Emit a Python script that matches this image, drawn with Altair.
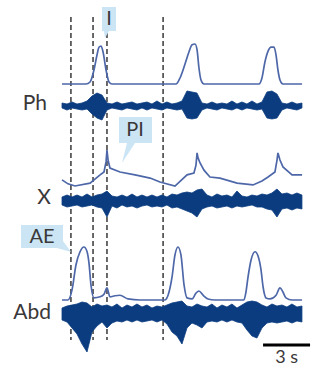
import altair as alt
import pandas as pd

W, H = 321, 371
PX_PER_S = 47 / 3.0          # 3 s scale bar is ~47 px long
X_DOMAIN = [-3.957, 16.528]  # seconds across the full picture width

INT_COL = "#4d67a8"
RAW_COL = "#0b3c80"
BOX_COL = "#cbe5f5"
TXT_COL = "#3a3838"
FONT = "Lato"

# ---------------- integrated traces (time s, amplitude a.u.) ----------------
ph_int_t = [0.00, 1.53, 1.79, 2.04, 2.23, 2.36, 2.49, 2.62, 2.81, 3.00, 3.19,
            7.28, 7.53, 7.85, 8.10, 8.30, 8.49, 8.62, 8.74, 8.87, 9.06,
            12.57, 12.76, 12.95, 13.15, 13.34, 13.53, 13.66, 13.78, 13.91, 14.10, 15.32]
ph_int_v = [0, 0, 0.05, 0.35, 0.72, 0.92, 0.95, 0.80, 0.35, 0.05, 0,
            0, 0.15, 0.50, 0.80, 0.98, 1.00, 0.85, 0.40, 0.10, 0,
            0, 0.15, 0.55, 0.82, 0.92, 0.92, 0.72, 0.35, 0.10, 0, 0]

x_int_t = [0.00, 0.38, 0.83, 1.79, 2.43, 2.68, 2.81, 2.87, 2.94, 3.06,
           3.70, 4.66, 5.62, 6.25, 7.21, 7.98, 8.42, 8.55, 8.62, 8.68,
           8.81, 9.06, 9.44, 10.08, 11.17, 12.19, 12.76, 13.15, 13.59, 13.72,
           13.78, 13.91, 14.10, 14.68, 15.32]
x_int_v = [0.17, 0.06, 0.00, 0.08, 0.31, 0.39, 0.67, 1.00, 0.72, 0.50,
           0.39, 0.31, 0.22, 0.11, 0.00, 0.31, 0.36, 0.58, 0.92, 0.78,
           0.64, 0.44, 0.25, 0.22, 0.08, 0.03, 0.14, 0.25, 0.39, 0.72,
           0.92, 0.72, 0.53, 0.31, 0.31]

abd_int_t = [0.00, 0.38, 0.64, 0.89, 1.15, 1.40, 1.60, 1.72, 1.85, 2.04,
             2.43, 2.68, 2.87, 3.06, 3.38, 3.70, 4.21, 4.98, 6.57, 6.83,
             7.02, 7.21, 7.40, 7.59, 7.79, 7.98, 8.30, 8.55, 8.74, 9.00,
             9.32, 9.76, 11.61, 11.74, 11.87, 12.06, 12.32, 12.51, 12.70, 12.83,
             13.02, 13.27, 13.66, 13.91, 14.10, 14.29, 14.68, 15.32]
abd_int_v = [0, 0, 0.19, 0.66, 0.91, 1.00, 0.91, 0.70, 0.28, 0.04,
             0.06, 0.11, 0.23, 0.06, 0.08, 0.09, 0.02, 0, 0, 0.15,
             0.43, 0.85, 1.00, 0.85, 0.28, 0.04, 0.02, 0.13, 0.17, 0.09,
             0.02, 0, 0, 0.15, 0.43, 0.75, 0.91, 0.83, 0.57, 0.25,
             0.04, 0.02, 0.09, 0.23, 0.15, 0.04, 0, 0]

# ---------------- raw nerve recordings: envelope (upper / lower) ----------------
raw_t = [round(i * 0.319, 3) for i in range(49)]   # sampling grid, s

ph_raw_hi = [3, 2, 4, 2, 3, 5, 10, 13, 11, 3, 2, 4, 2, 3, 4, 2, 3, 4, 2, 5,
             2, 4, 2, 3, 5, 15, 14, 13, 3, 2, 4, 2, 3, 2, 5, 2, 4, 2, 5, 2,
             4, 14, 15, 12, 3, 2, 4, 2, 3]
ph_raw_lo = [-2, -4, -2, -3, -4, -3, -8, -12, -14, -4, -2, -3, -4, -2, -3, -4, -2, -4, -2, -3,
             -4, -2, -3, -4, -3, -12, -13, -12, -4, -2, -3, -4, -2, -3, -4, -2, -4, -2, -3, -4,
             -3, -12, -13, -12, -4, -2, -3, -4, -2]

x_raw_hi = [4, 6, 4, 6, 4, 7, 4, 6, 7, 10, 5, 4, 6, 4, 7, 4, 6, 4, 6, 4,
            6, 4, 7, 6, 8, 9, 8, 11, 12, 6, 4, 7, 5, 6, 4, 10, 5, 4, 6, 5,
            7, 6, 8, 12, 7, 8, 6, 8, 6]
x_raw_lo = [-4, -6, -5, -4, -6, -5, -4, -6, -7, -16, -5, -7, -4, -6, -5, -7, -5, -4, -6, -5,
            -6, -4, -7, -6, -8, -10, -12, -16, -8, -6, -5, -7, -6, -5, -7, -5, -6, -5, -4, -6,
            -6, -8, -9, -16, -8, -7, -9, -7, -8]

abd_raw_hi = [6, 8, 9, 10, 12, 11, 7, 10, 8, 9, 7, 10, 6, 9, 7, 10, 7, 9, 6, 8,
              7, 9, 11, 12, 13, 8, 7, 10, 8, 7, 10, 6, 9, 7, 10, 6, 9, 12, 13, 12,
              9, 7, 10, 8, 9, 7, 10, 7, 8]
abd_raw_lo = [-6, -8, -14, -20, -30, -38, -18, -12, -8, -14, -9, -7, -8, -6, -8, -6, -8, -7, -6, -8,
              -6, -10, -18, -22, -30, -14, -9, -11, -14, -8, -7, -8, -6, -8, -6, -8, -9, -16, -22, -24,
              -14, -9, -8, -9, -8, -7, -9, -7, -8]

# phase markers (s) and scale bar
dash_t = [0.57, 1.98, 2.87, 6.45]
bar_start, bar_len = 12.83, 3
bar_label = "3 s"
trace_labels = ["Ph", "X", "Abd"]
phase_labels = ["I", "PI", "AE"]

# ---------------- helpers ----------------
xs = alt.Scale(domain=X_DOMAIN, nice=False, zero=False)


def yscale(base_px, px_per_unit):
    return alt.Scale(domain=[-(H - base_px) / px_per_unit, base_px / px_per_unit],
                     nice=False, zero=False)


def int_layer(t, v, base_px, ppu, interp):
    df = pd.DataFrame({"t": t, "v": v})
    return alt.Chart(df).mark_line(color=INT_COL, strokeWidth=1.7, interpolate=interp).encode(
        x=alt.X("t:Q", scale=xs, axis=None),
        y=alt.Y("v:Q", scale=yscale(base_px, ppu), axis=None),
    )


def raw_layer(hi, lo, base_px):
    df = pd.DataFrame({"t": raw_t, "hi": hi, "lo": lo})
    return alt.Chart(df).mark_area(color=RAW_COL, stroke=RAW_COL, strokeWidth=0.8,
                                   opacity=1).encode(
        x=alt.X("t:Q", scale=xs, axis=None),
        y=alt.Y("hi:Q", scale=yscale(base_px, 1), axis=None),
        y2="lo:Q",
    )


one = pd.DataFrame({"k": [0]})


def text_at(txt, x, y, align="center", size=20):
    return alt.Chart(one).mark_text(text=txt, font=FONT, fontSize=size, color=TXT_COL,
                                    align=align, baseline="middle").encode(
        x=alt.value(x), y=alt.value(y))


def callout(path):
    return alt.Chart(one).mark_point(shape=path, size=4, filled=True, fill=BOX_COL,
                                     opacity=1, strokeWidth=0).encode(
        x=alt.value(0), y=alt.value(0))


dash_df = pd.DataFrame({"t": dash_t})
dashes = alt.Chart(dash_df).mark_rule(color="#1a1a1a", strokeWidth=1.3,
                                      strokeDash=[5, 3]).encode(
    x=alt.X("t:Q", scale=xs, axis=None), y=alt.value(17), y2=alt.value(340))

bar_df = pd.DataFrame({"s": [bar_start], "e": [bar_start + bar_len], "lab": [bar_label]})
bar = alt.Chart(bar_df).mark_rule(color="black", strokeWidth=3).encode(
    x=alt.X("s:Q", scale=xs, axis=None), x2="e:Q", y=alt.value(345))
bar_txt = alt.Chart(bar_df).transform_calculate(m="(datum.s + datum.e) / 2").mark_text(
    font=FONT, fontSize=18, color=TXT_COL, baseline="middle").encode(
    x=alt.X("m:Q", scale=xs, axis=None), y=alt.value(358), text="lab:N")

layers = [
    dashes,
    callout("M102,7 H116 V31 H109 L105,38 L104,31 H102 Z"),
    callout("M119,117 H152 V143 H135 L122,163 L127,143 H119 Z"),
    callout("M21,225 H63 V241 L71,252 L57,248 H21 Z"),
    text_at(phase_labels[0], 109, 19),
    text_at(phase_labels[1], 135, 130),
    text_at(phase_labels[2], 42, 237),
    int_layer(ph_int_t, ph_int_v, 84, 40, "monotone"),
    raw_layer(ph_raw_hi, ph_raw_lo, 106),
    int_layer(x_int_t, x_int_v, 186, 36, "linear"),
    raw_layer(x_raw_hi, x_raw_lo, 201),
    int_layer(abd_int_t, abd_int_v, 300, 53, "monotone"),
    raw_layer(abd_raw_hi, abd_raw_lo, 314),
    text_at(trace_labels[0], 47, 104, align="right", size=21),
    text_at(trace_labels[1], 51, 198, align="right", size=21),
    text_at(trace_labels[2], 51, 313, align="right", size=21),
    bar,
    bar_txt,
]

chart = alt.layer(*layers).resolve_scale(y="independent").properties(
    width=W, height=H, autosize=alt.AutoSizeParams(type="none"), padding=0,
    background="white",
).configure_view(stroke=None)

chart.save("out.html", embed_options={"renderer": "svg", "actions": False})
